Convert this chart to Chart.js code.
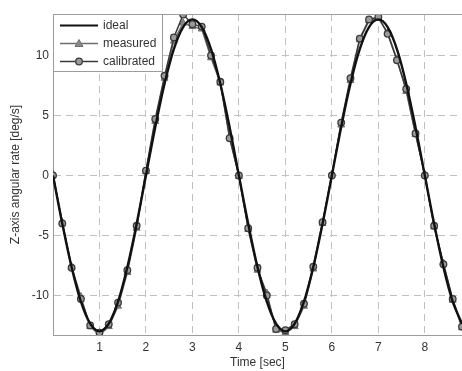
<!DOCTYPE html>
<html>
<head>
<meta charset="utf-8">
<script src="https://cdn.jsdelivr.net/npm/chart.js@4"></script>
<style>
  html, body { margin: 0; padding: 0; background: #fff; }
  #wrap { width: 462px; height: 371px; position: relative; }
</style>
</head>
<body>
<div id="wrap"><canvas id="rateChart"></canvas></div>
<script>
// Z-axis rate test: ideal vs measured vs calibrated gyro output

const timeSec = [
  0.0, 0.2, 0.4, 0.6, 0.8, 1.0, 1.2, 1.4, 1.6, 1.8,
  2.0, 2.2, 2.4, 2.6, 2.8, 3.0, 3.2, 3.4, 3.6, 3.8,
  4.0, 4.2, 4.4, 4.6, 4.8, 5.0, 5.2, 5.4, 5.6, 5.8,
  6.0, 6.2, 6.4, 6.6, 6.8, 7.0, 7.2, 7.4, 7.6, 7.8,
  8.0, 8.2, 8.4, 8.6, 8.8
];

const idealRate = [
  0, -4.02, -7.64, -10.52, -12.36, -13.0, -12.36, -10.52, -7.64, -4.02,
  0, 4.02, 7.64, 10.52, 12.36, 13.0, 12.36, 10.52, 7.64, 4.02,
  0, -4.02, -7.64, -10.52, -12.36, -13.0, -12.36, -10.52, -7.64, -4.02,
  0, 4.02, 7.64, 10.52, 12.36, 13.0, 12.36, 10.52, 7.64, 4.02,
  0, -4.02, -7.64, -10.52, -12.36
];

const measuredRate = [
  0.1, -3.9, -7.6, -10.1, -12.6, -13.3, -12.6, -10.9, -8.1, -4.4,
  0.3, 4.5, 8.1, 11.2, 12.7, 12.4, 12.2, 9.8, 7.7, 3.2,
  -0.1, -4.5, -7.9, -9.8, -12.9, -13.1, -12.6, -10.9, -7.8, -4.0,
  0.1, 4.2, 7.9, 11.3, 12.9, 13.1, 11.9, 9.7, 7.0, 3.4,
  0.1, -4.3, -7.3, -10.4, -12.7
];

const calibratedRate = [
  0.0, -4.0, -7.7, -10.3, -12.5, -13.1, -12.4, -10.6, -7.9, -4.2,
  0.4, 4.7, 8.3, 11.5, 13.4, 12.6, 12.4, 10.0, 7.8, 3.1,
  0.0, -4.4, -7.7, -10.0, -12.8, -12.9, -12.4, -10.7, -7.6, -3.9,
  0.0, 4.4, 8.1, 11.4, 13.0, 13.2, 11.8, 9.6, 7.2, 3.5,
  0.0, -4.2, -7.4, -10.3, -12.6
];

const xTicks = [1, 2, 3, 4, 5, 6, 7, 8];
const yTicks = [-10, -5, 0, 5, 10];

const COLORS = {
  ideal:      '#111111',
  measured:   '#6e6e6e',
  measFill:   '#8a8a8a',
  calibrated: '#3a3a3a',
  calFill:    '#9a9a9a',
  grid:       '#c0c0c0',
  frame:      '#9c9c9c',
  text:       '#333333',
};

const FONT = "'Liberation Sans', Arial, sans-serif";

const toPoints = vals => vals.map((v, i) => ({ x: timeSec[i], y: v }));

// top frame line + legend box in the upper-left corner
const framePlugin = {
  id: 'frameAndLegend',
  afterDraw(chart) {
    const { ctx, chartArea: a } = chart;
    ctx.save();
    ctx.strokeStyle = COLORS.frame;
    ctx.lineWidth = 1;
    ctx.beginPath();
    ctx.moveTo(a.left, a.top + 0.5);
    ctx.lineTo(a.right, a.top + 0.5);
    ctx.stroke();

    const bx = a.left + 0.5, by = a.top + 0.5, bw = 109, bh = 57;
    ctx.fillStyle = '#fff';
    ctx.fillRect(bx, by, bw, bh);
    ctx.strokeStyle = COLORS.frame;
    ctx.strokeRect(bx, by, bw, bh);

    const rows = [
      { label: 'ideal',      y: by + 11, color: COLORS.ideal,      width: 2.2, marker: null },
      { label: 'measured',   y: by + 29, color: COLORS.measured,   width: 1.6, marker: 'tri' },
      { label: 'calibrated', y: by + 47, color: COLORS.calibrated, width: 1.6, marker: 'circ' },
    ];
    const x0 = a.left + 7, x1 = a.left + 45, xm = (x0 + x1) / 2;
    ctx.font = '12px ' + FONT;
    ctx.textBaseline = 'middle';
    rows.forEach(r => {
      ctx.strokeStyle = r.color;
      ctx.lineWidth = r.width;
      ctx.beginPath();
      ctx.moveTo(x0, r.y);
      ctx.lineTo(x1, r.y);
      ctx.stroke();
      if (r.marker === 'tri') {
        ctx.fillStyle = COLORS.measFill;
        ctx.beginPath();
        ctx.moveTo(xm, r.y - 4);
        ctx.lineTo(xm + 4, r.y + 3);
        ctx.lineTo(xm - 4, r.y + 3);
        ctx.closePath();
        ctx.fill();
        ctx.lineWidth = 1;
        ctx.stroke();
      } else if (r.marker === 'circ') {
        ctx.fillStyle = COLORS.calFill;
        ctx.beginPath();
        ctx.arc(xm, r.y, 3.3, 0, Math.PI * 2);
        ctx.fill();
        ctx.lineWidth = 1.3;
        ctx.stroke();
      }
      ctx.fillStyle = COLORS.text;
      ctx.fillText(r.label, x1 + 5, r.y);
    });
    ctx.restore();
  }
};

new Chart(document.getElementById('rateChart'), {
  type: 'line',
  data: {
    datasets: [
      {
        label: 'ideal',
        data: toPoints(idealRate),
        borderColor: COLORS.ideal,
        borderWidth: 2.4,
        pointRadius: 0,
        tension: 0.35,
        order: 0,
      },
      {
        label: 'measured',
        data: toPoints(measuredRate),
        borderColor: COLORS.measured,
        backgroundColor: COLORS.measFill,
        borderWidth: 1.5,
        pointStyle: 'triangle',
        pointRadius: 4,
        pointBorderWidth: 1,
        pointBorderColor: COLORS.measured,
        tension: 0,
        order: 2,
      },
      {
        label: 'calibrated',
        data: toPoints(calibratedRate),
        borderColor: COLORS.calibrated,
        backgroundColor: COLORS.calFill,
        borderWidth: 1.5,
        pointStyle: 'circle',
        pointRadius: 3.3,
        pointBorderWidth: 1.3,
        pointBorderColor: COLORS.calibrated,
        tension: 0,
        order: 1,
      }
    ]
  },
  options: {
    responsive: true,
    maintainAspectRatio: false,
    animation: false,
    layout: { autoPadding: false, padding: { top: 14, right: 0, bottom: 0, left: 0 } },
    plugins: {
      legend: { display: false },
      tooltip: { enabled: false },
    },
    scales: {
      x: {
        type: 'linear',
        min: 0,
        max: 8.8,
        afterBuildTicks(scale) { scale.ticks = xTicks.map(v => ({ value: v })); },
        afterFit(scale) { scale.height = 36; },
        ticks: {
          color: COLORS.text,
          font: { family: FONT, size: 12 },
          padding: 5,
          maxRotation: 0,
        },
        grid: {
          color: COLORS.grid,
          drawTicks: false,
        },
        border: { display: true, color: COLORS.frame, dash: [7, 5] },
        title: {
          display: true,
          text: 'Time [sec]',
          color: COLORS.text,
          font: { family: FONT, size: 12 },
          padding: { top: 0, bottom: 1 },
        },
      },
      y: {
        type: 'linear',
        min: -13.3,
        max: 13.45,
        afterBuildTicks(scale) { scale.ticks = yTicks.map(v => ({ value: v })); },
        afterFit(scale) { scale.width = 53; },
        ticks: {
          color: COLORS.text,
          font: { family: FONT, size: 12 },
          padding: 4,
        },
        grid: {
          color: COLORS.grid,
          drawTicks: false,
        },
        border: { display: true, color: COLORS.frame, dash: [7, 5] },
        title: {
          display: true,
          text: 'Z-axis angular rate [deg/s]',
          color: COLORS.text,
          font: { family: FONT, size: 12 },
          padding: { top: 8, bottom: 0 },
        },
      }
    }
  },
  plugins: [framePlugin]
});
</script>
</body>
</html>
